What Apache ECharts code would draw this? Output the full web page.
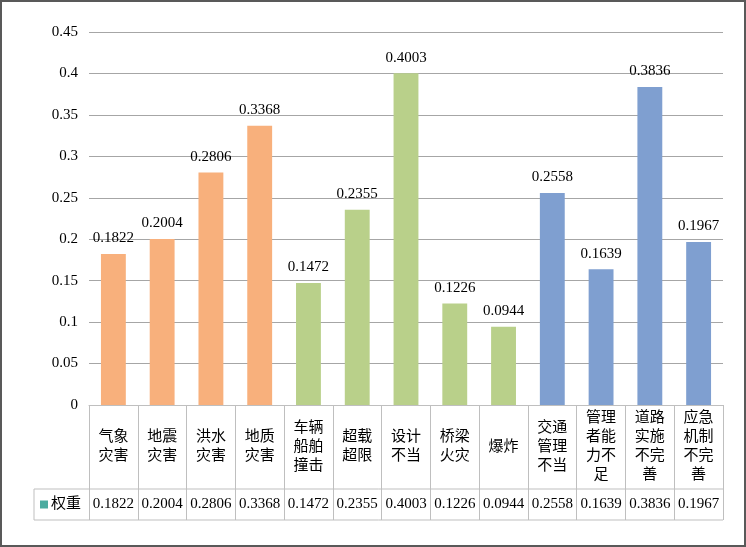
<!DOCTYPE html>
<html>
<head>
<meta charset="utf-8">
<script src="https://cdn.jsdelivr.net/npm/echarts@6/dist/echarts.min.js"></script>
<style>
  html, body { margin: 0; padding: 0; background: #fff; }
  #main { width: 746px; height: 547px; }
</style>
</head>
<body>
<div id="main"></div>
<script>
// 风险因素名称（表格表头，按两字一行换行）
var categories = ['气象灾害', '地震灾害', '洪水灾害', '地质灾害', '车辆船舶撞击', '超载超限',
  '设计不当', '桥梁火灾', '爆炸', '交通管理不当', '管理者能力不足', '道路实施不完善', '应急机制不完善'];
// 权重
var weights = [0.1822, 0.2004, 0.2806, 0.3368, 0.1472, 0.2355, 0.4003, 0.1226, 0.0944, 0.2558, 0.1639, 0.3836, 0.1967];
// 分组：0 自然，1 车辆/结构，2 管理
var groups = [0, 0, 0, 0, 1, 1, 1, 1, 1, 2, 2, 2, 2];
var groupColors = ['#F8B07C', '#B9D08A', '#7F9FD0'];
var yTicks = [0, 0.05, 0.1, 0.15, 0.2, 0.25, 0.3, 0.35, 0.4, 0.45];

var FONT = '"Liberation Serif", "Noto Sans CJK SC", serif';
var gridL = 89, gridR = 23, gridT = 32, gridB = 142;
var W = 746, H = 547;
var row1 = 489, row2 = 520, legendX = 34;
var lineColor = '#BFBFBF';

function wrap(s) {
  var out = [];
  for (var i = 0; i < s.length; i += 2) out.push(s.slice(i, i + 2));
  return out.join('\n');
}

var chart = echarts.init(document.getElementById('main'));
var option = {
  backgroundColor: '#fff',
  animation: false,
  grid: { left: gridL, right: gridR, top: gridT, bottom: gridB },
  xAxis: [{
    type: 'category',
    data: categories,
    position: 'bottom',
    axisLine: { show: true, lineStyle: { color: lineColor, width: 1 } },
    axisTick: { show: true, length: row2 - (H - gridB), lineStyle: { color: lineColor, width: 1 } },
    axisLabel: {
      interval: 0,
      margin: 42,
      verticalAlign: 'middle',
      lineHeight: 19,
      fontSize: 15,
      color: '#000',
      fontFamily: FONT,
      formatter: function (v) { return wrap(v); }
    }
  }, {
    type: 'category',
    data: weights.map(function (v) { return v.toFixed(4); }),
    position: 'bottom',
    axisLine: { show: false },
    axisTick: { show: false },
    axisLabel: {
      interval: 0,
      margin: (row1 + row2) / 2 - (H - gridB),
      verticalAlign: 'middle',
      fontSize: 15,
      color: '#000',
      fontFamily: FONT
    }
  }],
  yAxis: {
    type: 'value',
    min: 0,
    max: 0.45,
    interval: 0.05,
    axisLine: { show: false },
    axisTick: { show: false },
    splitLine: { lineStyle: { color: '#A6A6A6', width: 1 } },
    axisLabel: {
      margin: 11,
      fontSize: 15,
      color: '#000',
      fontFamily: FONT,
      formatter: function (v) {
        var t = yTicks.filter(function (k) { return Math.abs(k - v) < 1e-9; });
        return t.length ? String(+t[0].toFixed(2)) : '';
      }
    }
  },
  series: [{
    type: 'bar',
    name: '权重',
    barWidth: '51%',
    data: weights.map(function (v, i) {
      return { value: v, itemStyle: { color: groupColors[groups[i]] } };
    }),
    label: {
      show: true,
      position: 'top',
      distance: 8,
      fontSize: 15,
      color: '#000',
      fontFamily: FONT,
      formatter: function (p) { return p.value.toFixed(4); }
    }
  }],
  graphic: [
    // 外框
    { type: 'rect', shape: { x: 1, y: 1, width: W - 2, height: H - 2 },
      style: { fill: 'none', stroke: '#595959', lineWidth: 2 } },
    // 数据表横线
    { type: 'line', shape: { x1: legendX, y1: row1, x2: W - gridR, y2: row1 },
      style: { stroke: lineColor, lineWidth: 1 } },
    { type: 'line', shape: { x1: legendX, y1: row2, x2: W - gridR, y2: row2 },
      style: { stroke: lineColor, lineWidth: 1 } },
    { type: 'line', shape: { x1: legendX, y1: row1, x2: legendX, y2: row2 },
      style: { stroke: lineColor, lineWidth: 1 } },
    // 图例项
    { type: 'rect', shape: { x: 40, y: (row1 + row2) / 2 - 4, width: 8, height: 8 },
      style: { fill: '#4BACA0' } },
    { type: 'text', x: 51, y: (row1 + row2) / 2,
      style: { text: '权重', fontSize: 15, fontFamily: FONT, fill: '#000', verticalAlign: 'middle' } }
  ]
};
chart.setOption(option);
</script>
</body>
</html>
